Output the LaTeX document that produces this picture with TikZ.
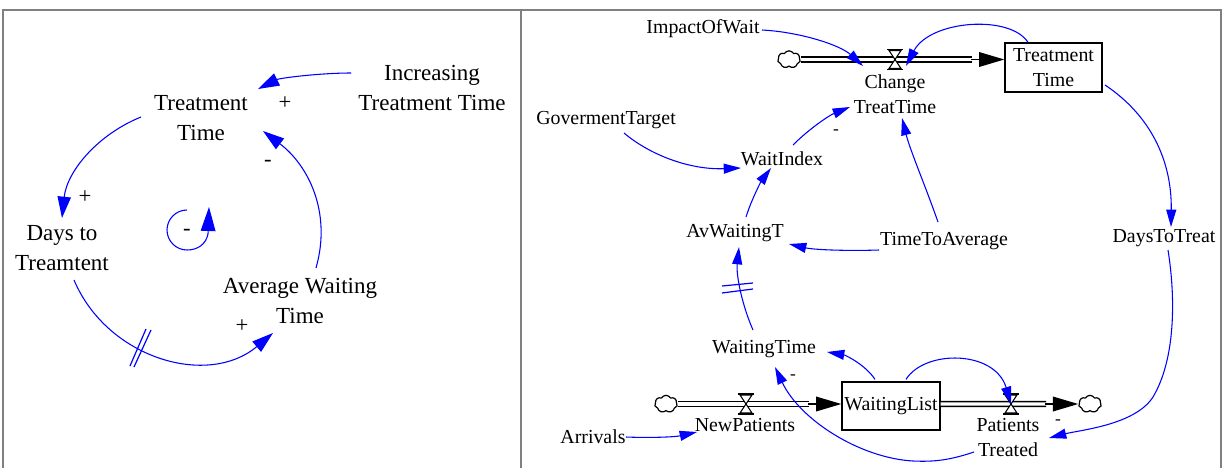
\documentclass[tikz,border=0pt]{standalone}
\usepackage{fontspec}
\setmainfont{Liberation Serif}
\usetikzlibrary{arrows.meta,shapes.symbols}
\definecolor{linkblue}{RGB}{0,0,255}
\definecolor{framegray}{RGB}{128,128,128}

\tikzset{
  valve/.pic={
    \draw[line width=0.8pt, fill=white] (-6,-9) -- (6,-9) -- (-6,9) -- (6,9) -- cycle;
    \draw[line width=1.2pt] (-8,-10) -- (8,-10) (-8,10) -- (8,10);
  }
}

\begin{document}
\begin{tikzpicture}[x=0.75pt,y=-0.75pt,
  bigtxt/.style={font=\fontsize{17.25pt}{22.5pt}\selectfont, align=center, inner sep=0pt},
  smalltxt/.style={font=\fontsize{14.9pt}{18.75pt}\selectfont, align=center, inner sep=0pt},
  signbig/.style={font=\fontsize{17pt}{17pt}\selectfont, inner sep=0pt},
  signsmall/.style={font=\fontsize{13pt}{13pt}\selectfont, inner sep=0pt},
  biglink/.style={draw=linkblue, line width=0.8pt, -{Triangle[length=16pt,width=10pt]}},
  link/.style={draw=linkblue, line width=0.8pt, -{Triangle[length=13pt,width=7.5pt]}},
  delaymark/.style={draw=linkblue, line width=0.9pt},
  pipe/.style={draw=black, line width=1.1pt, double=white, double distance=2.4pt},
  flowtip/.style={draw=black, line width=1.1pt, -{Triangle[length=19pt,width=11pt]}},
  stock/.style={draw=black, line width=1pt, fill=white, align=center, inner sep=0pt,
    font=\fontsize{14.9pt}{18.75pt}\selectfont},
  cloudnode/.style={cloud, draw=black, line width=0.9pt, fill=white, cloud puffs=7,
    cloud puff arc=120, aspect=1.25, minimum width=17pt, minimum height=13pt, inner sep=0pt},
  frame/.style={draw=framegray, line width=1.5pt}
]
\useasboundingbox (0,0) rectangle (1225,468);

% panel frames
\draw[frame] (2.5,468) -- (2.5,10) -- (1221,10) -- (1221,468);
\draw[frame] (521,10) -- (521,468);

% ---------------- causal loop diagram ----------------
\node[bigtxt] (tt)   at (201,118.5) {Treatment\\Time};
\node[bigtxt] (inc)  at (432,88)    {Increasing\\Treatment Time};
\node[bigtxt] (days) at (62,248)    {Days to\\Treamtent};
\node[bigtxt] (avg)  at (300,301)   {Average Waiting\\Time};

\draw[biglink] ([shift={(-81,-15)}]inc.center) .. controls +(-31,0) and +(22,-11) .. ([shift={(57,-29.5)}]tt.center);
\draw[biglink] ([shift={(-60,-1.5)}]tt.center) .. controls +(-43.5,17.6) and +(4.9,-46.6) .. ([shift={(0,-30)}]days.center);
\draw[biglink] ([shift={(12,32)}]days.center) .. controls +(33.3,78.6) and +(-65.3,54.8) .. ([shift={(-27,32)}]avg.center);
\draw[biglink] ([shift={(16,-33)}]avg.center) .. controls +(16,-56) and +(45,34) .. ([shift={(62,12.5)}]tt.center);

% delay on the lower link
\draw[delaymark] (130,366) -- (146,329) (134,367) -- (151,330);

% polarities
\node[signbig] (p1) at (285,103) {+};
\node[signbig] (p2) at (85,197)  {+};
\node[signbig] (p3) at (242,326) {+};
\node[signbig] (m1) at (268,163) {-};

% loop identifier
\draw[draw=linkblue, line width=0.8pt, -{Triangle[length=18pt,width=11pt]}]
  (187,210) .. controls (176,210) and (167,219) .. (167,230)
            .. controls (167,241) and (176,250) .. (187,250)
            .. controls (198,250) and (206,244) .. (208,234) -- (209,207);
\node[signbig] (loopsign) at (187,232) {-};

% ---------------- stock and flow diagram ----------------
\node[stock, minimum width=72.75pt, minimum height=36.75pt] (ttb) at (1053.5,67.5) {Treatment\\Time};
\node[stock, minimum width=73.5pt, minimum height=36pt] (wl) at (891,406) {WaitingList};

\node[cloudnode] (c1) at (789,59.5) {};
\node[cloudnode] (c2) at (666,404) {};
\node[cloudnode] (c3) at (1090,404) {};

\coordinate (v1) at (895,59.5);
\coordinate (v2) at (746,404);
\coordinate (v3) at (1011,404);

% pipes
\draw[pipe] (c1.east) -- ([xshift=-24]c1.east -| ttb.west);
\draw[flowtip] ([xshift=-25]c1.east -| ttb.west) -- (c1.east -| ttb.west);
\draw[pipe] (c2.east) -- ([xshift=-24]c2.east -| wl.west);
\draw[flowtip] ([xshift=-25]c2.east -| wl.west) -- (c2.east -| wl.west);
\draw[pipe] (c2.east -| wl.east) -- ([xshift=-24]c3.west);
\draw[flowtip] ([xshift=-25]c3.west) -- (c3.west);

\pic at (v1) {valve};
\pic at (v2) {valve};
\pic at (v3) {valve};

% variables
\node[smalltxt] (iow) at (703,29)  {ImpactOfWait};
\node[smalltxt] (chg) at (895,94)  {Change\\TreatTime};
\node[smalltxt] (gov) at (606,120) {GovermentTarget};
\node[smalltxt] (wi)  at (782,159) {WaitIndex};
\node[smalltxt] (avw) at (735,233) {AvWaitingT};
\node[smalltxt] (tta) at (944,241) {TimeToAverage};
\node[smalltxt] (dtt) at (1164,238) {DaysToTreat};
\node[smalltxt] (wt)  at (764,349) {WaitingTime};
\node[smalltxt] (np)  at (745,425) {NewPatients};
\node[smalltxt] (pt)  at (1008,438) {Patients\\Treated};
\node[smalltxt] (arr) at (593,437) {Arrivals};

% information links
\draw[link] ([shift={(59,1)}]iow.center) .. controls +(38,2) and +(-23,-21) .. ([shift={(-32,-28)}]chg.center);
\draw[link] ([shift={(-25.5,0)}]ttb.north) .. controls +(-18,-28) and +(24,-46) .. ([shift={(11,-28)}]chg.center);
\draw[link] ([shift={(51.5,17.5)}]ttb.center) .. controls +(45,30) and +(1,-67) .. ([shift={(7,-11)}]dtt.center);
\draw[link] ([shift={(18,13)}]gov.center) .. controls +(26,22) and +(-51,2) .. ([shift={(-41,9)}]wi.center);
\draw[link] ([shift={(11,-14)}]wi.center) .. controls +(17,-17) and +(-20,8) .. ([shift={(-45,13)}]chg.center);
\draw[link] ([shift={(11,-16)}]avw.center) .. controls +(6,-19) and +(-9,12) .. ([shift={(-11,9)}]wi.center);
\draw[link] ([shift={(-6,-19)}]tta.center) .. controls +(-13,-37) and +(8,32) .. ([shift={(7,24)}]chg.center);
\draw[link] ([shift={(-65,9)}]tta.center) .. controls +(-29,1) and +(26,6) .. ([shift={(54,11)}]avw.center);
\draw[link] ([shift={(-11,-19)}]wt.center) .. controls +(-11,-25) and +(-3,28) .. ([shift={(4,14)}]avw.center);
\draw[link] ([shift={(-16,-2)}]wl.north) .. controls +(-10,-15) and +(18,3) .. ([shift={(63,3)}]wt.center);
\draw[link] ([shift={(15,-2)}]wl.north) .. controls +(19,-30) and +(-16,-54) .. (v3);
\draw[link] ([shift={(-34,14)}]pt.center) .. controls +(-24,8) and +(22,1) .. (913,461)
            .. controls +(-53,-3) and +(25,53) .. ([shift={(11,18)}]wt.center);
\draw[link] ([shift={(4,12)}]dtt.center) .. controls +(8,50) and +(22,-37) .. (1153,397)
            .. controls +(-18,28) and +(31,-8) .. ([shift={(41,0)}]pt.center);
\draw[link] ([shift={(33,0)}]arr.center) .. controls +(24,1) and +(-22,5) .. ([shift={(-48,7)}]np.center);

% delay on the averaging link
\draw[delaymark] (722,286) -- (753,283) (722,293) -- (753,289);

% polarities
\node[signsmall] (m2) at (836,132) {-};
\node[signsmall] (m3) at (793,377) {-};
\node[signsmall] (m4) at (1058,422) {-};

\end{tikzpicture}
\end{document}
